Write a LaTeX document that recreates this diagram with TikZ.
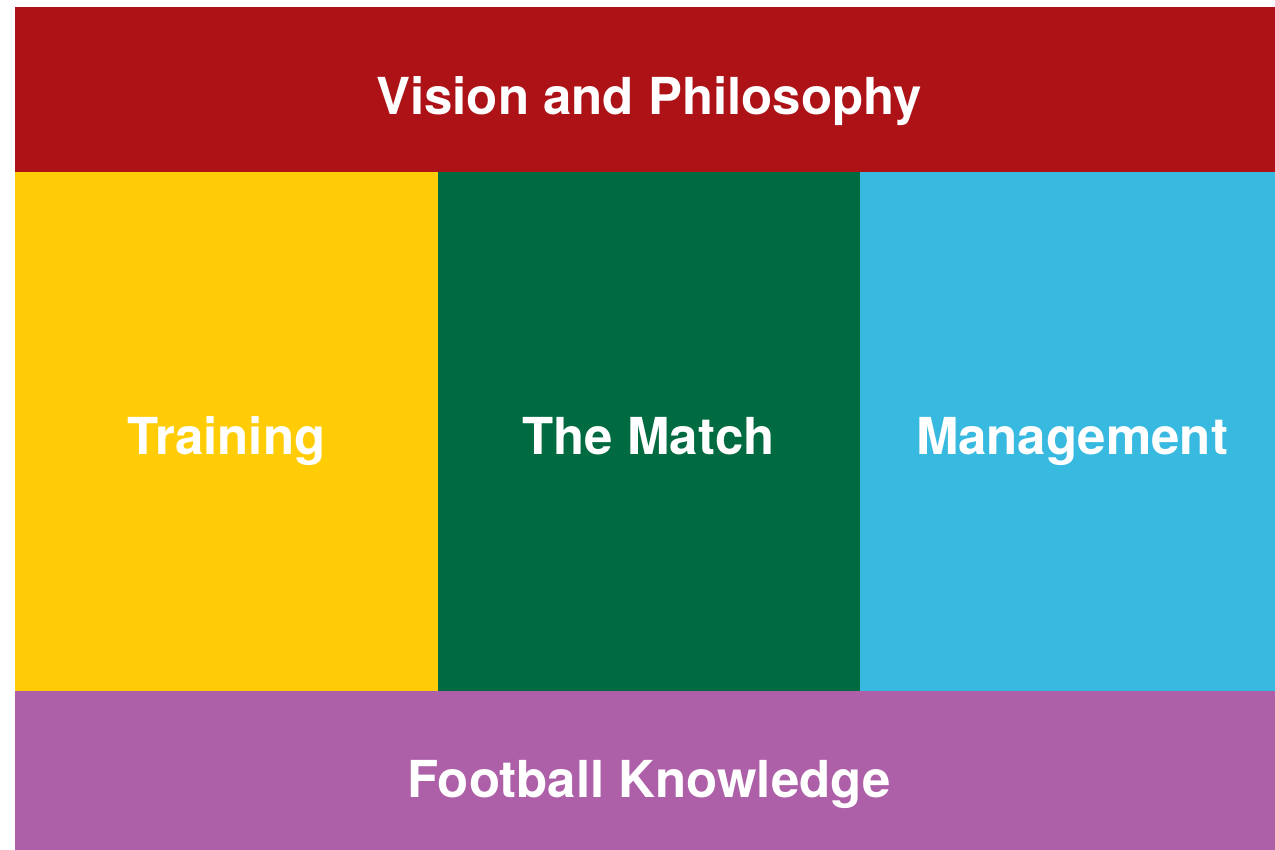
\documentclass[tikz,border=0pt]{standalone}
\usepackage{fontspec}
\setmainfont{TeX Gyre Heros}
\usetikzlibrary{calc}
\definecolor{visionred}{HTML}{AD1217}
\definecolor{trainyellow}{HTML}{FFCC05}
\definecolor{matchgreen}{HTML}{006B40}
\definecolor{managecyan}{HTML}{38B9E0}
\definecolor{knowpurple}{HTML}{AD5FA7}

\begin{document}
\begin{tikzpicture}[blocktext/.style={anchor=base,text=white,font=\fontsize{14.5}{17}\selectfont\bfseries}]
        \useasboundingbox (0,0) rectangle (12.75,8.5);
        \coordinate (TL) at (0.15,8.43);
        \coordinate (TR) at (12.75,6.78);
        \coordinate (ML) at (0.15,6.78);
        \coordinate (M1) at (4.38,1.59);
        \coordinate (M2) at (8.60,1.59);
        \coordinate (BL) at (0.15,0);
        \coordinate (BR) at (12.75,1.59);
        \fill[visionred] (TL) rectangle (TR);
        \fill[trainyellow] (ML) rectangle (M1);
        \fill[matchgreen] (M1 |- ML) rectangle (M2);
        \fill[managecyan] (M2 |- ML) rectangle (BR);
        \fill[knowpurple] (BL) rectangle (BR);
        \node[blocktext] (vision) at (6.49,7.35) {Vision and Philosophy};
        \node[blocktext] (training) at (2.265,3.95) {Training};
        \node[blocktext] (match) at (6.485,3.95) {The Match};
        \node[blocktext] (management) at (10.72,3.95) {Management};
        \node[blocktext] (knowledge) at (6.49,0.52) {Football Knowledge};
    \end{tikzpicture}
\end{document}
